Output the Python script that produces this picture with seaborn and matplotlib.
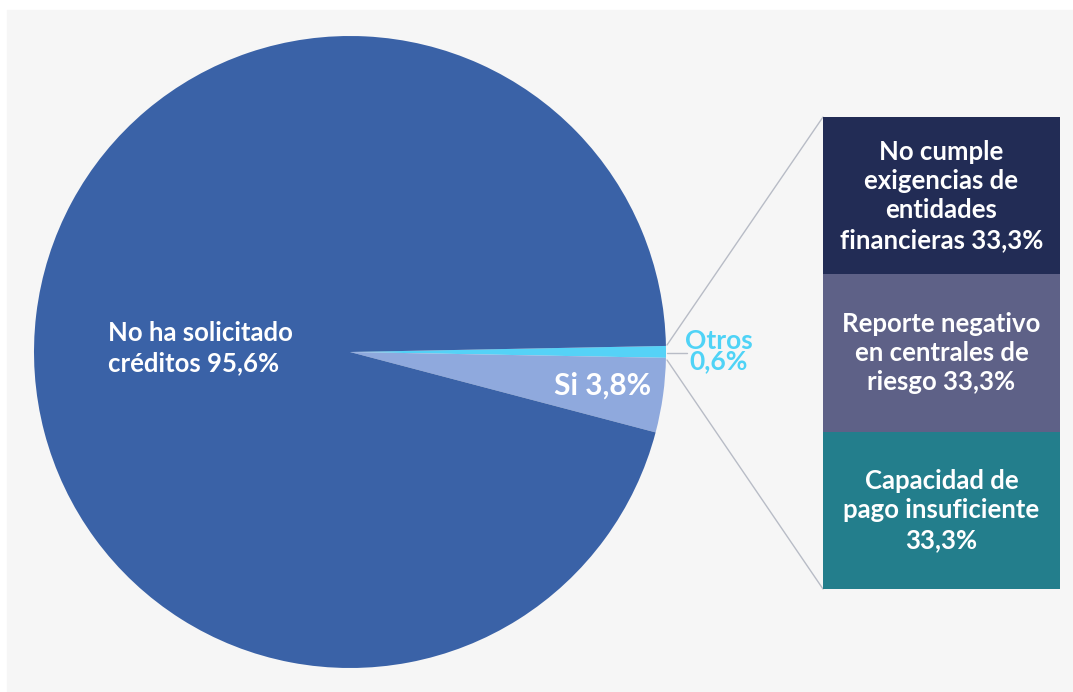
import seaborn as sns
import matplotlib.pyplot as plt
from matplotlib.patches import Rectangle

# pie data
pie_labels = ["Otros", "Si", "No ha solicitado créditos"]
pie_values = [0.6, 3.8, 95.6]
pie_colors = ["#55d2f7", "#8fa9dd", "#3a62a7"]

# reasons for the "Si" slice (stacked bar, top to bottom)
bar_labels = ["No cumple\nexigencias de\nentidades\nfinancieras 33,3%",
              "Reporte negativo\nen centrales de\nriesgo 33,3%",
              "Capacidad de\npago insuficiente\n33,3%"]
bar_values = [33.3, 33.3, 33.3]
bar_colors = ["#222c55", "#5e6187", "#237e8c"]

sns.set_theme(style="white")
plt.rcParams['font.family'] = ['Lato', 'DejaVu Sans']

W, H = 1073, 692
fig = plt.figure(figsize=(W / 100, H / 100), dpi=100)
fig.patch.set_facecolor("white")

# main axes in pixel coords (y flipped so 0 is bottom)
ax = fig.add_axes([0, 0, 1, 1])
ax.add_patch(Rectangle((7, 0), W - 7, H - 10, color="#f6f6f6", zorder=0))

cx, cy, r = 350, H - 352, 316
ax.pie(pie_values, colors=pie_colors, startangle=1.1, counterclock=False,
       center=(cx, cy), radius=r, frame=True,
       wedgeprops=dict(linewidth=0))
ax.set_xlim(0, W)
ax.set_ylim(0, H)
ax.set_aspect("equal")
ax.axis("off")

# slice labels
ax.text(108, H - 348, "No ha solicitado\ncréditos 95,6%", color="white",
        fontsize=18.5, fontweight="bold", ha="left", va="center", linespacing=1.27)
ax.text(603, H - 386, f"Si {pie_values[1]:.1f}%".replace(".", ","), color="white",
        fontsize=21.5, fontweight="bold", ha="center", va="center")
ax.text(719, H - 351, "Otros\n" + f"{pie_values[0]:.1f}%".replace(".", ","),
        color="#4fd3f6", fontsize=19, fontweight="bold", ha="center", va="center",
        linespacing=0.8)

# connector lines
lc = "#b8bcc6"
ax.plot([667, 823], [H - 345, H - 117], color=lc, lw=1)
ax.plot([667, 823], [H - 360, H - 589], color=lc, lw=1)
ax.plot([667, 687], [H - 353, H - 353], color=lc, lw=1)

# stacked bar on the right
bx = fig.add_axes([823 / W, 1 - 589 / H, (1060 - 823) / W, (589 - 117) / H])
bottom = sum(bar_values)
for lab, val, col in zip(bar_labels, bar_values, bar_colors):
    bottom -= val
    bx.bar(0, val, bottom=bottom, width=1, color=col, linewidth=0)
    bx.text(0, bottom + val / 2, lab, color="white", fontsize=18.5,
            fontweight="bold", ha="center", va="center", linespacing=1.27)
bx.set_xlim(-0.5, 0.5)
bx.set_ylim(0, sum(bar_values))
bx.axis("off")

fig.savefig("out.png", dpi=100)
